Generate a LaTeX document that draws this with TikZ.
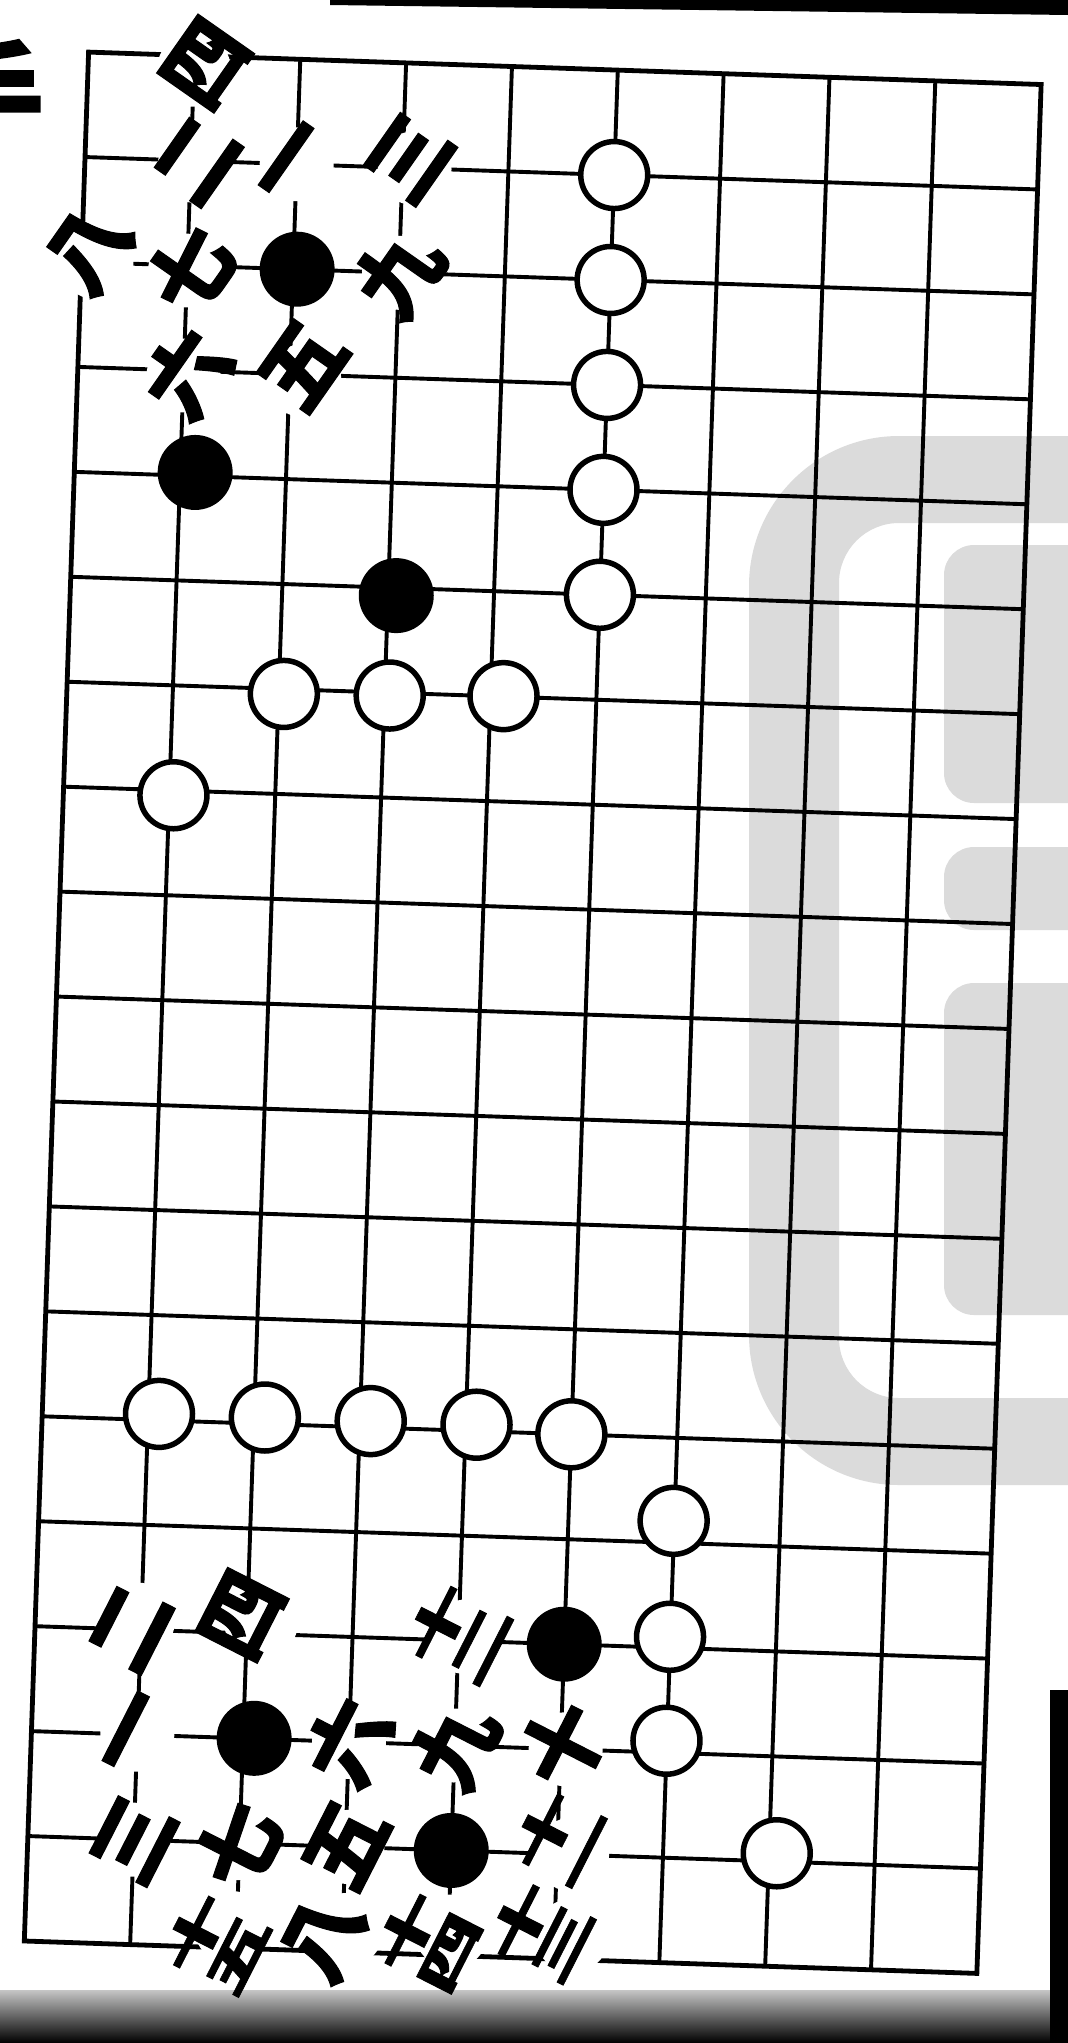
\documentclass[tikz,border=0pt]{standalone}
\usepackage{fontspec}
\usepackage{graphicx}
\newfontfamily\cjk{Noto Sans CJK JP}[BoldFont={Noto Sans CJK JP Black}, BoldFeatures={FakeBold=1.2}]
\newcommand{\pair}[2]{\scalebox{1}[0.56]{\vbox{\hbox{#1}\hbox{#2}}}}
\begin{document}
\begin{tikzpicture}[x=1pt, y=1pt,
  gridline/.style={line width=3.9pt},
  edge/.style={line width=4.8pt},
  whitestone/.style={circle, draw, line width=5.5pt, fill=white, minimum size=67pt, inner sep=0pt},
  blackstone/.style={circle, fill=black, minimum size=75pt, inner sep=0pt},
  move/.style={font=\cjk\bfseries\fontsize{84}{84}\selectfont, inner sep=0pt}]
\useasboundingbox (0,0) rectangle (1068,-2043);

% light watermark behind the board
\fill[gray!28] (1068,-436) -- (899,-436) arc[start angle=90, end angle=180, radius=150]
  -- (749,-1335) arc[start angle=180, end angle=270, radius=150] -- (1068,-1485)
  -- (1068,-1398) -- (899,-1398) arc[start angle=270, end angle=180, radius=60]
  -- (839,-583) arc[start angle=180, end angle=90, radius=60] -- (1068,-523) -- cycle;
\fill[gray!28, rounded corners=30pt] (944,-545) rectangle (1120,-803);
\fill[gray!28, rounded corners=30pt] (944,-847) rectangle (1120,-930);
\fill[gray!28, rounded corners=30pt] (944,-983) rectangle (1120,-1315);

% page edges
\fill[black] (330,0) -- (1068,0) -- (1068,-15) -- (330,-5) -- cycle;
\shade[top color=gray!45, bottom color=black] (0,-1990) rectangle (1068,-2043);
\fill[black] (1050,-1690) rectangle (1068,-2043);

% cut-off heading at the margin
\node[font=\cjk\bfseries\fontsize{110}{110}\selectfont, anchor=east, inner sep=0pt] (head) at (44,-92) {手};

\begin{scope}[shift={(88.6,-52.1)}, rotate=-1.95, x=105.9pt, y=-105pt]
% board, ten lines by nineteen
\foreach \c in {1,...,8} \draw[gridline] (\c,0) -- (\c,18);
\foreach \r in {1,...,17} \draw[gridline] (0,\r) -- (9,\r);
\draw[edge] (0,0) rectangle (9,18);

% upper position
\node[blackstone, xshift=4pt] (b1) at (2,2) {};
\node[blackstone, xshift=15pt, yshift=3pt] (b2) at (1,4) {};
\node[blackstone, xshift=8pt, yshift=-8pt] (b3) at (3,5) {};
\foreach \r/\n in {1/w1, 2/w2, 3/w3, 4/w4, 5/w5}
  \node[whitestone] (\n) at (5,\r) {};
\node[whitestone, xshift=5pt, yshift=-5pt] (w6) at (2,6) {};
\node[whitestone, xshift=5pt, yshift=-3pt] (w7) at (3,6) {};
\node[whitestone, xshift=13pt] (w8) at (4,6) {};
\node[whitestone, xshift=4pt, yshift=-5pt] (w9) at (1,7) {};

% moves of the upper position
\foreach \c/\r/\dx/\dy/\t/\n in {2/1/0/0/一/ta1, 1/1/4/-5/二/ta2, 3/1/12/0/三/ta3,
                                 1/0/0/-14/四/ta4, 2/3/15/-6/五/ta5, 1/3/0/-5/六/ta6,
                                 1/2/-2/-5/七/ta7, 0/2/15/0/八/ta8, 3/2/0/0/九/ta9} {
  \fill[white, xshift=\dx pt, yshift=\dy pt] (\c,\r) circle[radius=37pt];
  \node[move, rotate=55, xshift=\dx pt, yshift=\dy pt] (\n) at (\c,\r) {\t};
}

% lower position
\foreach \c/\n in {1/w10, 2/w11, 3/w12, 4/w13}
  \node[whitestone, xshift=11pt, yshift=6pt] (\n) at (\c,13) {};
\node[whitestone] (w14) at (5,13) {};
\node[whitestone, yshift=22pt] (w15) at (6,14) {};
\node[whitestone, yshift=11pt] (w16) at (6,15) {};
\node[whitestone, yshift=12pt] (w17) at (6,16) {};
\node[whitestone, xshift=8pt, yshift=8pt] (w18) at (7,17) {};
\node[blackstone] (b4) at (5,15) {};
\node[blackstone, xshift=11pt] (b5) at (2,16) {};
\node[blackstone] (b6) at (4,17) {};

% moves of the lower position
\foreach \c/\r/\dx/\dy/\t/\n in {1/16/0/0/一/tb1, 1/15/-3/10/二/tb2, 1/17/0/0/三/tb3,
                                 2/15/14/12/四/tb4, 3/17/2/0/五/tb5, 3/16/0/0/六/tb6,
                                 2/17/-3/0/七/tb7, 3/18/4/22/八/tb8, 4/16/0/0/九/tb9,
                                 5/16/5/0/十/tb10, 5/17/15/0/{\pair{十}{一}}/tb11,
                                 4/15/6/4/{\pair{十}{二}}/tb12, 5/18/18/24/{\pair{十}{三}}/tb13,
                                 4/18/3/24/{\pair{十}{四}}/tb14, 2/18/-5/20/{\pair{十}{五}}/tb15} {
  \fill[white, xshift=\dx pt, yshift=\dy pt] (\c,\r) circle[radius=37pt];
  \node[move, rotate=63, xshift=\dx pt, yshift=\dy pt] (\n) at (\c,\r) {\t};
}
\end{scope}
\end{tikzpicture}
\end{document}
